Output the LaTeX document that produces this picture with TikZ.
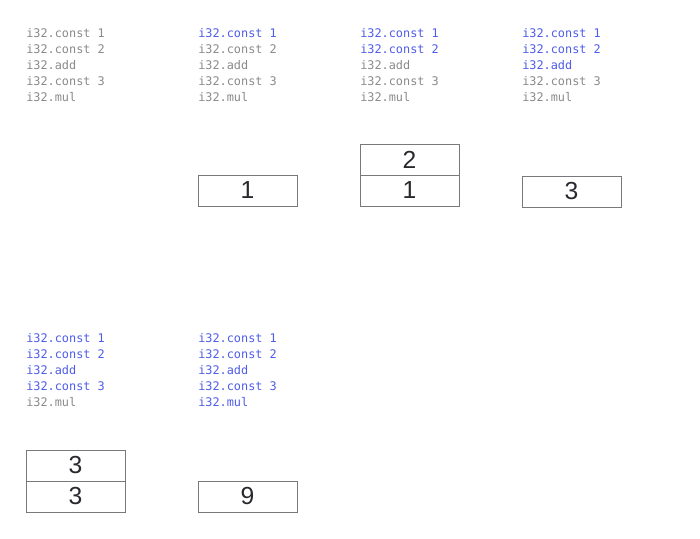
\documentclass[tikz,border=0pt]{standalone}
\usepackage{fontspec}
\setmainfont{Liberation Sans}
\setmonofont{DejaVu Sans Mono}
\definecolor{done}{RGB}{78,92,232}
\definecolor{todo}{RGB}{138,138,138}
\definecolor{boxline}{RGB}{120,120,125}
\definecolor{digit}{RGB}{40,40,45}
\tikzset{
  code/.style={anchor=base west, inner sep=0pt, align=left, font=\ttfamily\fontsize{8.9}{12}\selectfont},
  slot/.style={draw=boxline, line width=0.75pt, minimum width=74.25pt, minimum height=23.25pt, inner sep=0pt, text=digit, font=\fontsize{18.5}{20}\selectfont},
}
\newcommand{\dn}[1]{\textcolor{done}{#1}}
\newcommand{\td}[1]{\textcolor{todo}{#1}}
\begin{document}
\begin{tikzpicture}[x=0.75pt,y=-0.75pt]
\useasboundingbox (0,0) rectangle (700,539);
% panel 1
\node[code] (c1) at (26,101) {\td{i32.const 1}\\\td{i32.const 2}\\\td{i32.add}\\\td{i32.const 3}\\\td{i32.mul}};
% panel 2
\node[code] (c2) at (198,101) {\dn{i32.const 1}\\\td{i32.const 2}\\\td{i32.add}\\\td{i32.const 3}\\\td{i32.mul}};
\node[slot] (s2a) at (247.5,190.5) {1};
% panel 3
\node[code] (c3) at (360,101) {\dn{i32.const 1}\\\dn{i32.const 2}\\\td{i32.add}\\\td{i32.const 3}\\\td{i32.mul}};
\node[slot] (s3a) at (409.5,190.5) {1};
\node[slot] (s3b) at (409.5,159.5) {2};
% panel 4
\node[code] (c4) at (522,101) {\dn{i32.const 1}\\\dn{i32.const 2}\\\dn{i32.add}\\\td{i32.const 3}\\\td{i32.mul}};
\node[slot] (s4a) at (571.5,191.5) {3};
% panel 5
\node[code] (c5) at (26,406) {\dn{i32.const 1}\\\dn{i32.const 2}\\\dn{i32.add}\\\dn{i32.const 3}\\\td{i32.mul}};
\node[slot] (s5a) at (75.5,496.5) {3};
\node[slot] (s5b) at (75.5,465.5) {3};
% panel 6
\node[code] (c6) at (198,406) {\dn{i32.const 1}\\\dn{i32.const 2}\\\dn{i32.add}\\\dn{i32.const 3}\\\dn{i32.mul}};
\node[slot] (s6a) at (247.5,496.5) {9};
\end{tikzpicture}
\end{document}
